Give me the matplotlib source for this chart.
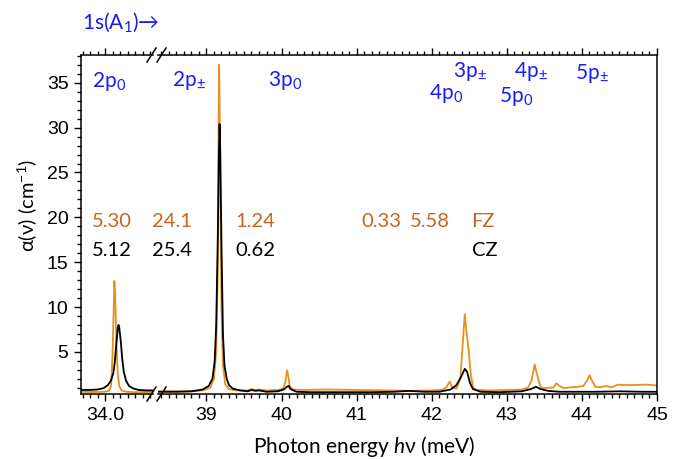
import numpy as np
import matplotlib
matplotlib.use('Agg')
import matplotlib.pyplot as plt
from matplotlib.ticker import MultipleLocator, FixedLocator, FormatStrFormatter
from matplotlib.lines import Line2D

plt.rcParams['mathtext.fontset'] = 'custom'
plt.rcParams['mathtext.rm'] = 'Lato'
plt.rcParams['mathtext.it'] = 'Lato:italic'

# Spectra (photon energy in meV, absorption in cm^-1)
fz_left_x = [33.68, 33.80, 33.90, 34.00, 34.05, 34.08, 34.10, 34.115, 34.125, 34.135,
             34.15, 34.17, 34.19, 34.22, 34.28, 34.40, 34.55, 34.64]
fz_left_y = [0.55, 0.52, 0.52, 0.55, 0.65, 1.2, 4.5, 9.5, 12.9, 11.5,
             6.5, 2.5, 1.2, 0.7, 0.55, 0.5, 0.52, 0.52]

cz_left_x = [33.68, 33.80, 33.90, 33.98, 34.04, 34.08, 34.11, 34.13, 34.15, 34.17,
             34.18, 34.19, 34.21, 34.23, 34.25, 34.28, 34.32, 34.38, 34.45, 34.55, 34.64]
cz_left_y = [0.75, 0.75, 0.8, 0.95, 1.3, 1.8, 2.6, 3.8, 5.8, 7.6,
             8.0, 7.7, 6.2, 4.2, 2.8, 1.8, 1.2, 0.9, 0.75, 0.7, 0.7]

fz_right_x = [38.36, 38.6, 38.8, 38.95, 39.05, 39.10, 39.13, 39.15, 39.16, 39.168,
              39.175, 39.185, 39.20, 39.22, 39.25, 39.30, 39.40, 39.55, 39.60, 39.65,
              39.70, 39.80, 39.95, 40.02, 40.05, 40.075, 40.09, 40.11, 40.15, 40.3,
              40.6, 41.0, 41.4, 41.7, 42.0, 42.15, 42.2, 42.24, 42.27, 42.33,
              42.38, 42.41, 42.44, 42.46, 42.49, 42.52, 42.55, 42.6, 42.8, 43.0,
              43.2, 43.28, 43.33, 43.37, 43.40, 43.44, 43.47, 43.55, 43.62, 43.66,
              43.70, 43.76, 43.85, 43.95, 44.02, 44.07, 44.10, 44.14, 44.18, 44.25,
              44.32, 44.40, 44.48, 44.55, 44.70, 44.85, 45.0]
fz_right_y = [0.6, 0.6, 0.6, 0.7, 1.0, 2.0, 5.0, 14.0, 28.0, 37.0,
              33.0, 22.0, 10.0, 3.5, 1.4, 0.85, 0.7, 0.7, 0.85, 0.75,
              0.8, 0.7, 0.75, 0.9, 1.6, 2.95, 2.3, 1.1, 0.8, 0.75,
              0.8, 0.75, 0.7, 0.65, 0.7, 0.8, 1.1, 1.7, 1.0, 0.9,
              2.0, 5.5, 9.2, 7.5, 5.3, 2.5, 1.0, 0.75, 0.7, 0.75,
              0.8, 1.0, 1.8, 3.6, 2.6, 1.3, 0.95, 1.0, 1.0, 1.5,
              1.2, 0.95, 1.05, 1.1, 1.2, 1.8, 2.4, 1.7, 1.1, 1.05,
              1.2, 1.05, 1.35, 1.3, 1.3, 1.35, 1.25]

cz_right_x = [38.36, 38.6, 38.8, 38.95, 39.03, 39.08, 39.11, 39.13, 39.15, 39.165,
              39.175, 39.185, 39.20, 39.22, 39.24, 39.27, 39.30, 39.35, 39.45, 39.55,
              39.60, 39.65, 39.70, 39.80, 39.95, 40.03, 40.07, 40.095, 40.12, 40.2,
              40.4, 40.8, 41.2, 41.5, 41.7, 41.9, 42.1, 42.25, 42.33, 42.39,
              42.44, 42.47, 42.51, 42.55, 42.65, 42.9, 43.2, 43.32, 43.39, 43.45,
              43.55, 43.7, 43.9, 44.2, 44.5, 44.8, 45.0]
cz_right_y = [0.55, 0.55, 0.6, 0.8, 1.2, 2.0, 4.0, 8.0, 17.0, 26.5,
              30.4, 27.0, 17.0, 7.0, 3.5, 2.0, 1.3, 0.9, 0.7, 0.6,
              0.75, 0.65, 0.7, 0.55, 0.6, 0.8, 1.1, 1.2, 0.85, 0.55,
              0.5, 0.5, 0.5, 0.55, 0.65, 0.55, 0.55, 0.8, 1.3, 2.2,
              3.1, 2.8, 1.5, 0.85, 0.55, 0.5, 0.6, 0.85, 1.1, 0.85,
              0.65, 0.55, 0.55, 0.55, 0.6, 0.55, 0.55]

# integrated intensities written above the peaks
fz_values = ['5.30', '24.1', '1.24', '0.33', '5.58']
cz_values = ['5.12', '25.4', '0.62']

orange = '#E8901A'
orange_txt = '#C8641E'
blue = '#1a1aff'
ann_font = ['Lato', 'DejaVu Sans']
tick_font = 'Liberation Sans'

fig = plt.figure(figsize=(6.82, 4.59), dpi=100)
bottom, height = 1 - 394 / 459, (394 - 55) / 459
ax1 = fig.add_axes([81 / 682, bottom, 72 / 682, height])
ax2 = fig.add_axes([158 / 682, bottom, 499 / 682, height])

ax1.plot(fz_left_x, fz_left_y, color=orange, lw=1.3)
ax1.plot(cz_left_x, cz_left_y, color='black', lw=1.3)
ax2.plot(fz_right_x, fz_right_y, color=orange, lw=1.3)
ax2.plot(cz_right_x, cz_right_y, color='black', lw=1.3)

ax1.set_xlim(33.68, 34.64)
ax2.set_xlim(38.355, 45.0)
for ax in (ax1, ax2):
    ax.set_ylim(0.3, 38.1)
    for s in ax.spines.values():
        s.set_linewidth(1.1)
    ax.tick_params(which='both', direction='out', top=True, width=1.0,
                   labelsize=14, pad=4)
    ax.tick_params(which='major', length=5)
    ax.tick_params(which='minor', length=3)
    ax.xaxis.set_minor_locator(MultipleLocator(0.1))

ax1.spines['right'].set_visible(False)
ax1.xaxis.set_major_locator(FixedLocator([34.0]))
ax1.xaxis.set_major_formatter(FormatStrFormatter('%.1f'))
ax1.yaxis.set_major_locator(FixedLocator([5, 10, 15, 20, 25, 30, 35]))
ax1.yaxis.set_minor_locator(MultipleLocator(1))

ax2.spines['left'].set_visible(False)
ax2.tick_params(axis='y', which='both', left=False, right=False, labelleft=False)
ax2.xaxis.set_major_locator(MultipleLocator(1))
ax2.xaxis.set_major_formatter(FormatStrFormatter('%d'))
for lab in ax1.get_xticklabels() + ax1.get_yticklabels() + ax2.get_xticklabels():
    lab.set_family(tick_font)

# break marks
for yb in (55, 394):
    for x0 in (147, 157):
        fig.add_artist(Line2D([x0 / 682, (x0 + 9) / 682],
                              [1 - (yb + 7) / 459, 1 - (yb - 7) / 459],
                              transform=fig.transFigure, color='black', lw=1.1))

# state labels
fig.text(82 / 682, 1 - 22 / 459, '1s(A$_1$)\u2192', color=blue, fontsize=15,
         family=ann_font, ha='left', va='center')
ax1.text(33.83, 35.1, '2p$_0$', color=blue, fontsize=15, family=ann_font, va='center')
states = [(38.54, 35.3, '2p$_{\\pm}$'), (39.82, 35.3, '3p$_0$'),
          (42.29, 36.3, '3p$_{\\pm}$'), (41.97, 33.8, '4p$_0$'),
          (43.1, 36.3, '4p$_{\\pm}$'), (42.89, 33.5, '5p$_0$'),
          (43.91, 36.0, '5p$_{\\pm}$')]
for x, y, s in states:
    ax2.text(x, y, s, color=blue, fontsize=15, family=ann_font, va='center',
             clip_on=False)

# intensity labels
ax1.text(33.83, 19.5, fz_values[0], color=orange_txt, fontsize=14.5, family=ann_font, va='center')
ax1.text(33.83, 16.3, cz_values[0], color='black', fontsize=14.5, family=ann_font, va='center')
for x, sf, sc in zip([38.27, 39.38], fz_values[1:3], cz_values[1:3]):
    ax2.text(x, 19.5, sf, color=orange_txt, fontsize=14.5, family=ann_font, va='center', clip_on=False)
    ax2.text(x, 16.3, sc, color='black', fontsize=14.5, family=ann_font, va='center', clip_on=False)
for x, sf in zip([41.066, 41.71], fz_values[3:]):
    ax2.text(x, 19.5, sf, color=orange_txt, fontsize=14.5, family=ann_font, va='center')
ax2.text(42.53, 19.5, 'FZ', color=orange_txt, fontsize=14.5, family=ann_font, va='center')
ax2.text(42.53, 16.3, 'CZ', color='black', fontsize=14.5, family=ann_font, va='center')

fig.text(364.5 / 682, 1 - 446.7 / 459, 'Photon energy $h$\u03bd (meV)', fontsize=15,
         family=ann_font, ha='center', va='center')
fig.text(27 / 682, 1 - 205 / 459, '\u03b1(\u03bd) (cm$^{-1}$)', fontsize=14.5,
         family=ann_font, ha='center', va='center', rotation=90)

plt.savefig('out.png', dpi=100)
